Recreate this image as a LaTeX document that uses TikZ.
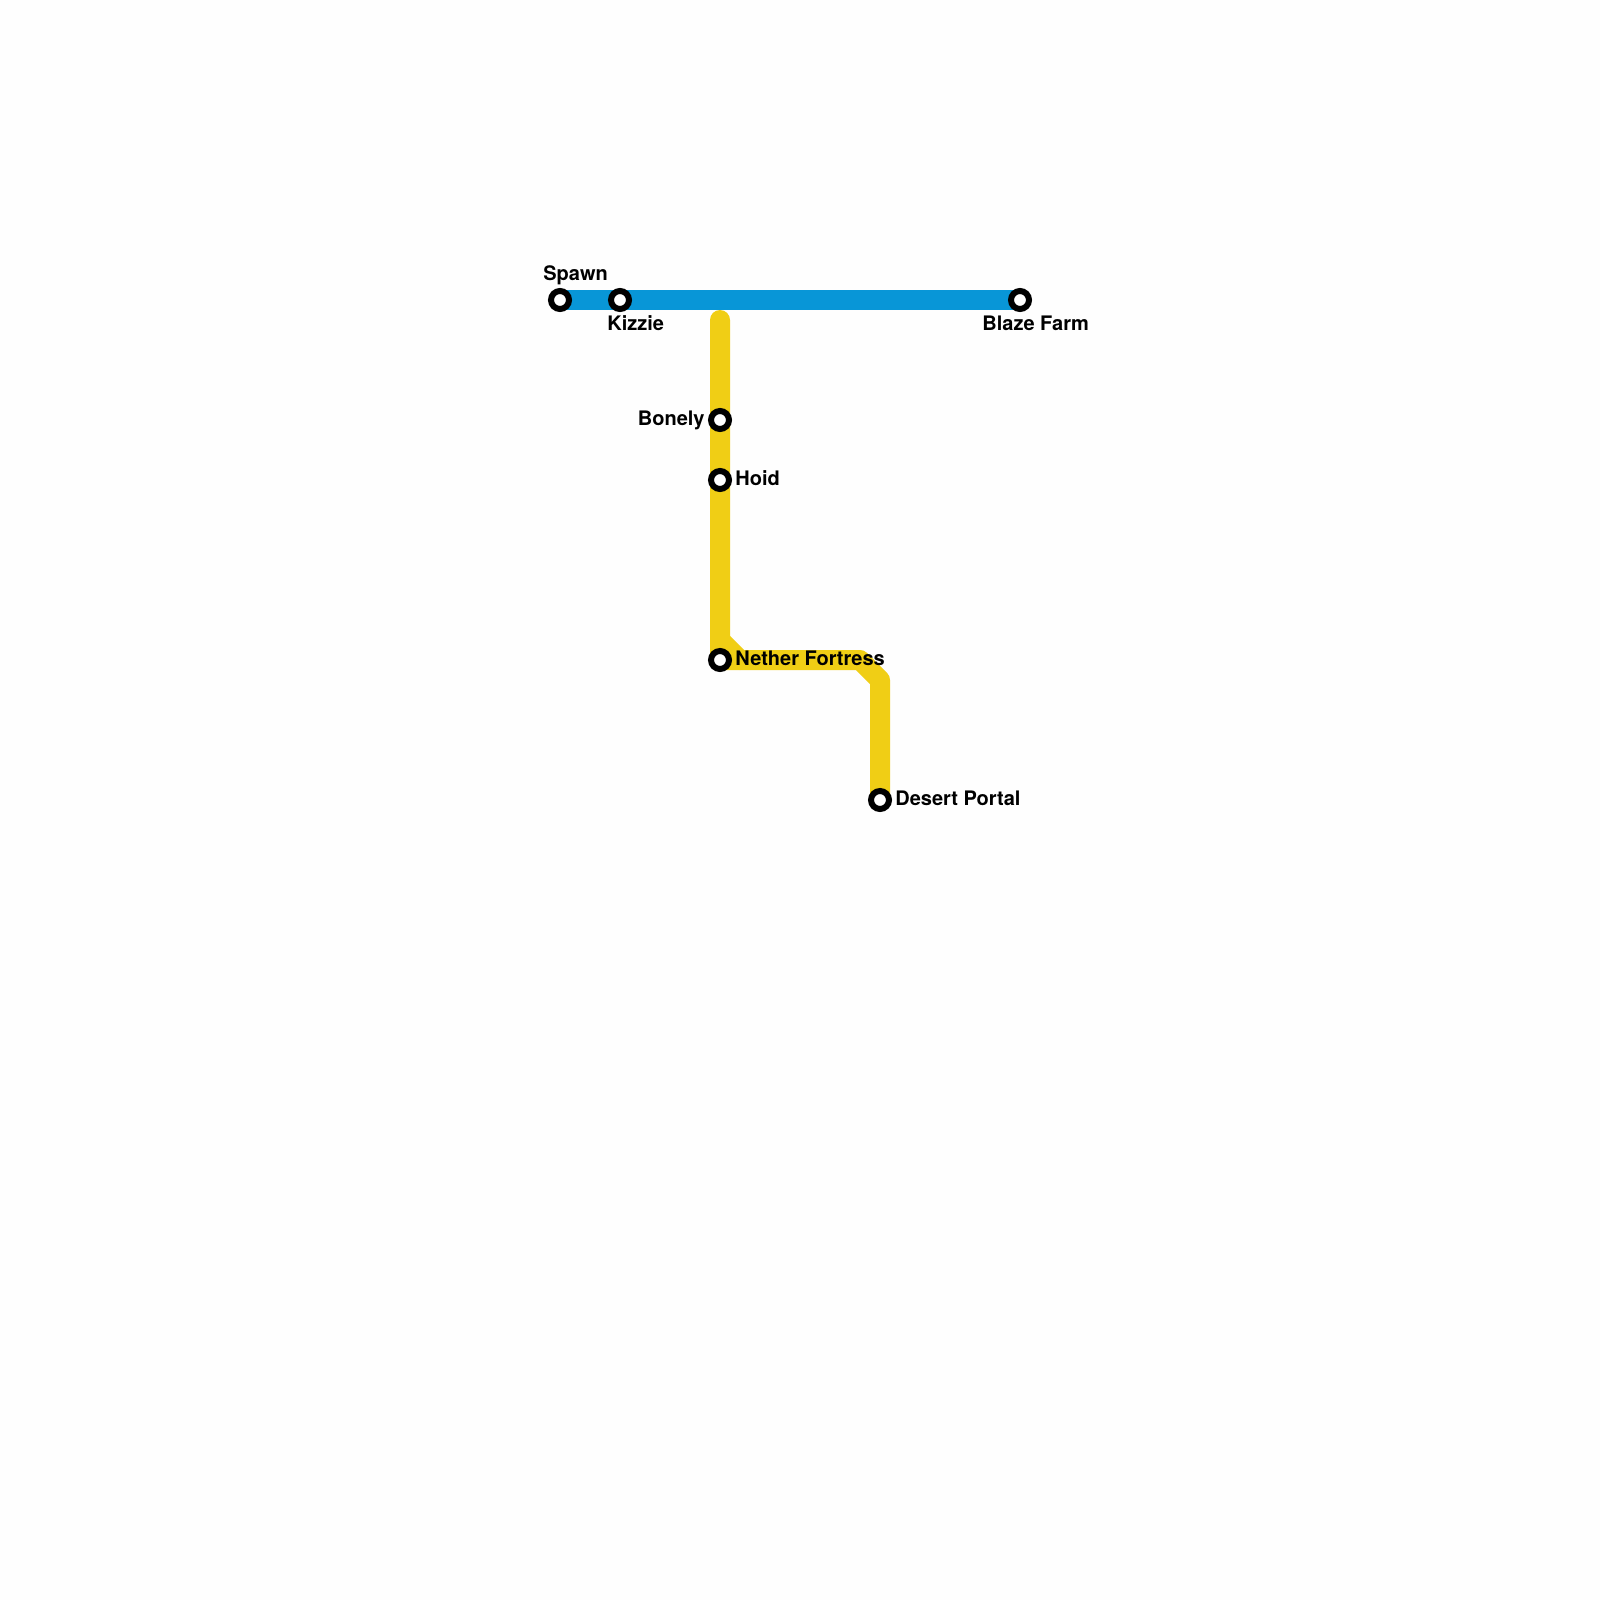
\documentclass[tikz,border=0pt]{standalone}
\usepackage{fontspec}
\setmainfont{TeX Gyre Heros}
\definecolor{lineblue}{HTML}{0896D7}
\definecolor{lineyellow}{HTML}{F0CE15}
\tikzset{
  x=0.5pt,y=-0.5pt,
  stationmark/.style={circle,draw=black,fill=white,line width=3pt,minimum size=9pt,inner sep=0pt,outer sep=0pt},
  bluelinepath/.style={draw=lineblue,line width=10pt,line cap=round,line join=round},
  yellowlinepath/.style={draw=lineyellow,line width=10pt,line cap=round,line join=round},
  stationlabel/.style={font=\bfseries\fontsize{10pt}{12pt}\selectfont,text=black,inner sep=0pt}
}
\begin{document}
\begin{tikzpicture}
\useasboundingbox (0,0) rectangle (1600,1600);
\fill[white!99.6!black] (0,0) rectangle (1600,1600);
\coordinate (ytop) at (720,320);
\coordinate (ybend) at (720,640);
\coordinate (ybendb) at (740,660);
\coordinate (yh) at (860,660);
\coordinate (yd) at (880,680);
\coordinate (sSpawn) at (560,300);
\coordinate (sKizzie) at (620,300);
\coordinate (sBlaze) at (1020,300);
\coordinate (sBonely) at (720,420);
\coordinate (sHoid) at (720,480);
\coordinate (sNether) at (720,660);
\coordinate (sDesert) at (880,800);
\draw[bluelinepath] (sSpawn) -- (sBlaze);
\draw[yellowlinepath] (ytop) -- (sNether) -- (yh) -- (yd) -- (sDesert);
\draw[yellowlinepath] (ybend) -- (ybendb);
\node[stationmark] (Spawn) at (sSpawn) {};
\node[stationmark] (Kizzie) at (sKizzie) {};
\node[stationmark] (Blaze) at (sBlaze) {};
\node[stationmark] (Bonely) at (sBonely) {};
\node[stationmark] (Hoid) at (sHoid) {};
\node[stationmark] (Nether) at (sNether) {};
\node[stationmark] (Desert) at (sDesert) {};
\node[stationlabel,anchor=base west] (lSpawn) at (543,280) {Spawn};
\node[stationlabel,anchor=base west] (lKizzie) at (607,330) {Kizzie};
\node[stationlabel,anchor=base west] (lBlaze) at (982,330) {Blaze Farm};
\node[stationlabel,anchor=base east] (lBonely) at (705,425) {Bonely};
\node[stationlabel,anchor=base west] (lHoid) at (735,485) {Hoid};
\node[stationlabel,anchor=base west] (lNether) at (735,665) {Nether Fortress};
\node[stationlabel,anchor=base west] (lDesert) at (895,805) {Desert Portal};
\end{tikzpicture}
\end{document}
